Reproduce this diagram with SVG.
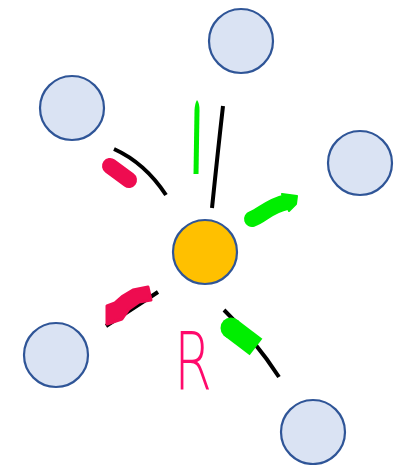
<svg xmlns="http://www.w3.org/2000/svg" width="397" height="465" viewBox="0 0 397 465">
<style>
.sat{fill:#dae3f3;stroke:#2f5597;stroke-width:2.2}
.hub{fill:#ffc000;stroke:#2f5597;stroke-width:2.2}
.ink{fill:none;stroke:#000;stroke-width:4;stroke-linecap:butt}
.red{fill:#ee0c50;stroke:#ee0c50;stroke-linejoin:round}
</style>
<rect width="397" height="465" fill="#fff"/>
<g id="connectors">
  <path class="ink" d="M223,106 Q218,150 212,208"/>
  <path class="ink" d="M114,149 Q145,163 166,195"/>
  <path class="ink" d="M224,310 Q255,340 279,377"/>
  <path class="ink" d="M106,326 L158,292"/>
</g>
<g id="annotations">
  <path d="M197,100 Q199.5,103 199.5,110 L198.5,174 L193.5,174 L194.5,110 Q195,103 197,100 Z" fill="#00ee00"/>
  <path d="M252,219 C262,216 268,206 287,202" fill="none" stroke="#00ee00" stroke-width="16" stroke-linecap="round"/>
  <path d="M282,194 L297,196 L296,204 L289,211 Z" fill="#00ee00" stroke="#00ee00" stroke-width="2" stroke-linejoin="round"/>
  <line x1="231" y1="328" x2="256" y2="347" stroke="#00ee00" stroke-width="21"/>
  <circle cx="231" cy="328" r="10.5" fill="#00ee00"/>
  <line x1="110" y1="166" x2="129" y2="180" stroke="#ee0c50" stroke-width="16" stroke-linecap="round"/>
  <path d="M107,306 L115,303 L123,296 L133,290 L148,287 L151,300 L139,302 L129,309 L122,319 L107,324 Z" class="red" stroke-width="3"/>
  <text x="174" y="389" font-family="DejaVu Sans, Liberation Sans, sans-serif" font-weight="200" font-size="80" fill="#ff0a6c" textLength="38" lengthAdjust="spacingAndGlyphs">R</text>
</g>
<g id="node-top"><circle class="sat" cx="241" cy="41" r="32"/></g>
<g id="node-upper-left"><circle class="sat" cx="72" cy="108" r="32"/></g>
<g id="node-right"><circle class="sat" cx="360" cy="163" r="32"/></g>
<g id="node-lower-left"><circle class="sat" cx="56" cy="355" r="32"/></g>
<g id="node-bottom-right"><circle class="sat" cx="313" cy="432" r="32"/></g>
<g id="node-center"><circle class="hub" cx="205" cy="252" r="32"/></g>
</svg>
